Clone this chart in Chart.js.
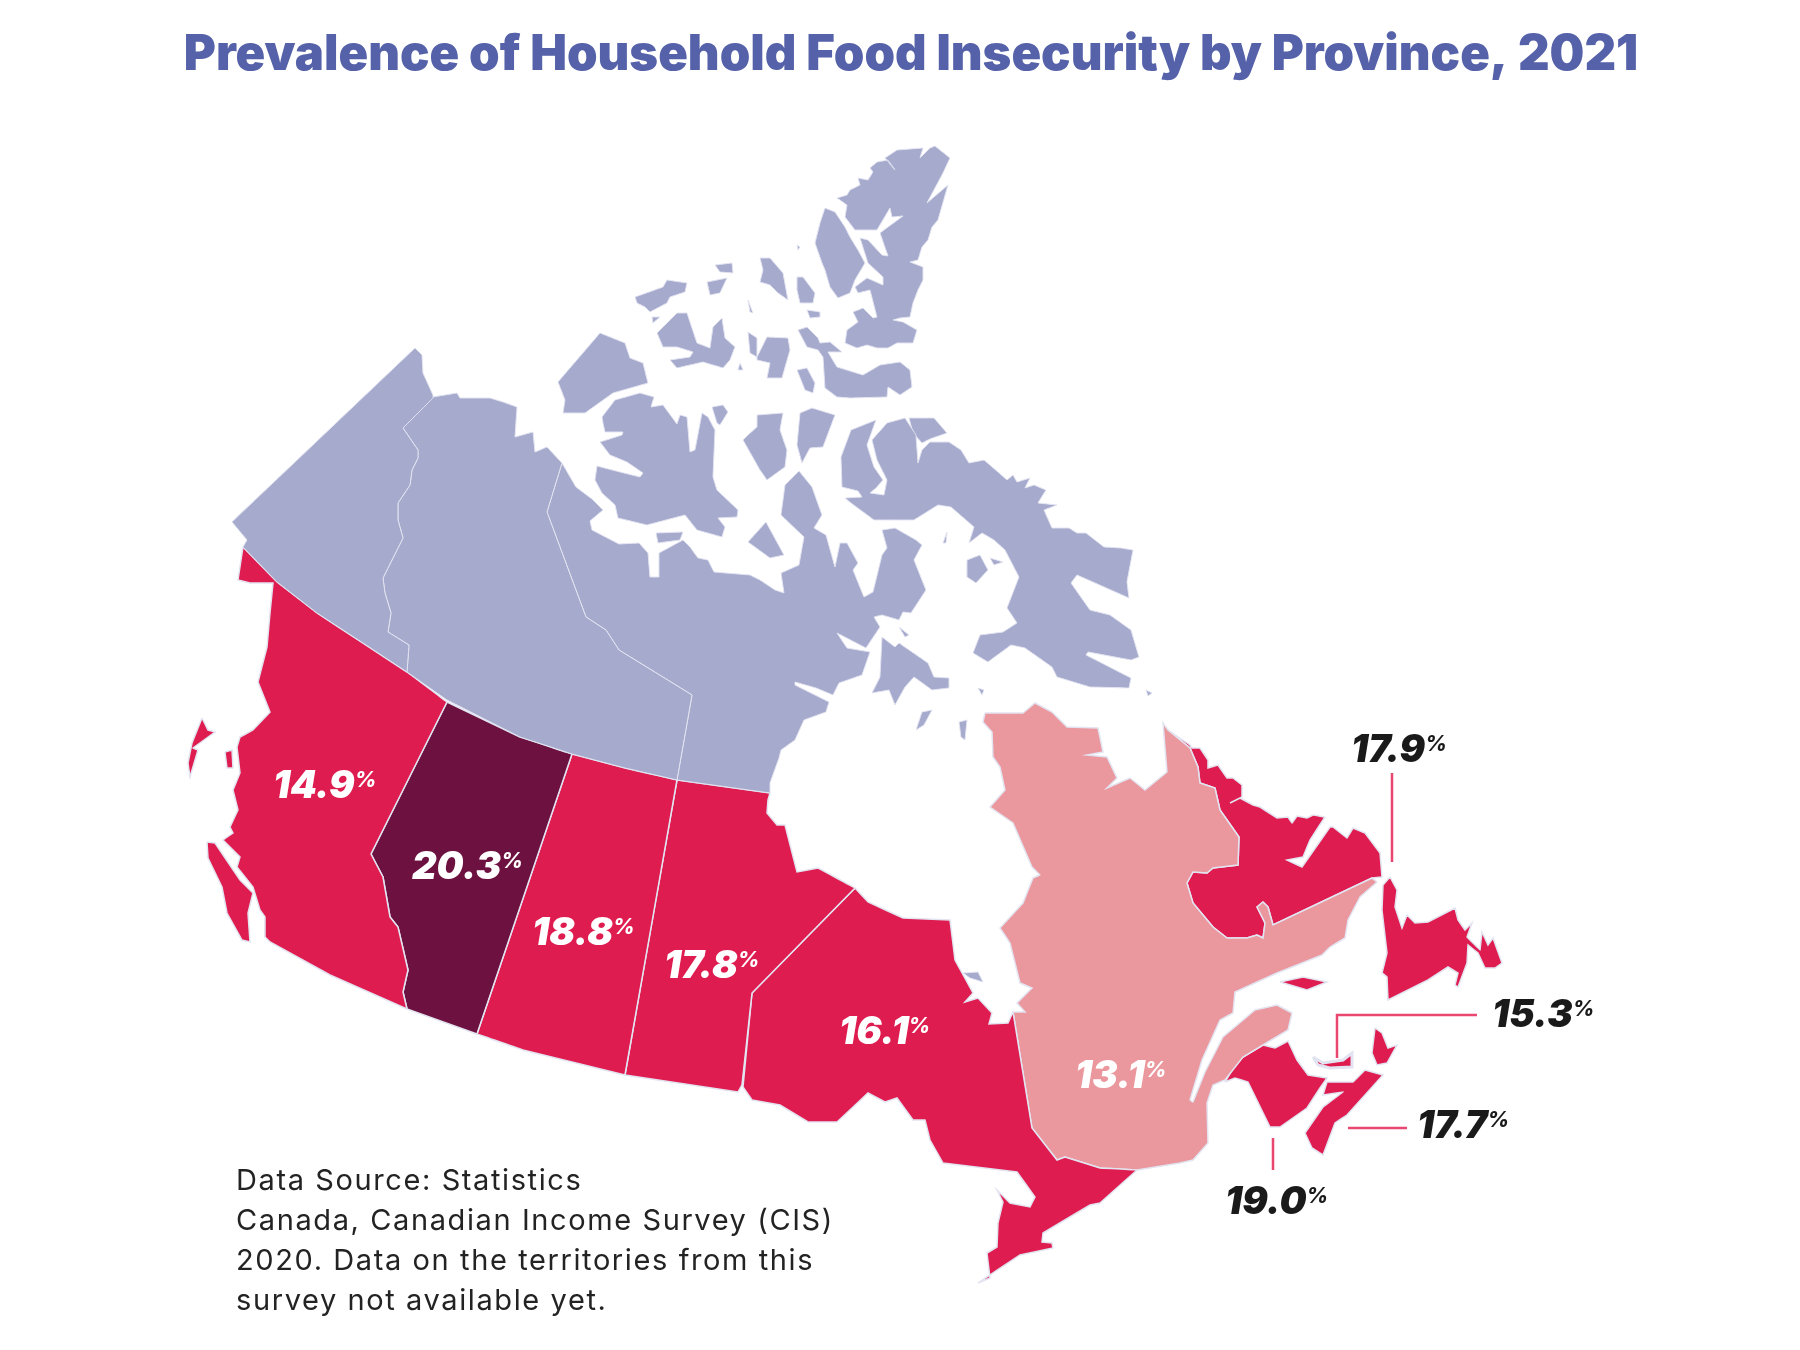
<!DOCTYPE html>
<html>
<head>
<meta charset="utf-8">
<title>Prevalence of Household Food Insecurity by Province, 2021</title>
<script src="https://cdn.jsdelivr.net/npm/chart.js@4"></script>
<style>
  html, body { margin: 0; padding: 0; background: #ffffff; }
  canvas { display: block; }
</style>
</head>
<body>
<canvas id="mapChart" width="1800" height="1350"></canvas>
<script>
const titleText = 'Prevalence of Household Food Insecurity by Province, 2021';
const sourceLines = [
    'Data Source: Statistics',
    'Canada, Canadian Income Survey (CIS)',
    '2020. Data on the territories from this',
    'survey not available yet.'
];
const provinces = ['BC', 'AB', 'SK', 'MB', 'ON', 'QC', 'NL', 'PE', 'NS', 'NB'];
const insecurity = [14.9, 20.3, 18.8, 17.8, 16.1, 13.1, 17.9, 15.3, 17.7, 19.0];
const labelX = [273, 412, 532, 664, 839, 1075, 1351, 1492, 1417, 1225];
const labelY = [798, 879, 945, 978, 1044, 1088, 762, 1027, 1138, 1214];
const labelColors = ['#fff', '#fff', '#fff', '#fff', '#fff', '#fff', '#1a1a1a', '#1a1a1a', '#1a1a1a', '#1a1a1a'];

// ====== contornos (unidades del mapa) ======
const yukon = [[415,348],[422,355],[423,373],[433,395],[433,398],[403,428],[418,450],[418,458],[412,470],[410,485],[398,503],[398,520],[403,538],[383,578],[385,593],[391,613],[388,632],[409,645],[407,672],[363,643],[317,613],[277,582],[243,547],[247,540],[232,522]];
const nwt = [[433,397],[457,393],[460,398],[490,398],[503,402],[517,407],[515,437],[533,432],[535,452],[547,447],[562,463],[547,512],[586,617],[606,630],[619,650],[692,695],[677,780],[625,768],[572,754],[520,737],[447,700],[407,672],[409,645],[388,632],[391,613],[385,593],[383,578],[403,538],[398,520],[398,503],[410,485],[412,470],[418,458],[418,450],[403,428]];
const nunavut = [[562,463],[576,487],[592,499],[603,510],[590,521],[592,530],[619,544],[639,543],[648,553],[650,577],[659,577],[659,553],[683,540],[690,547],[698,558],[708,560],[714,572],[750,575],[760,580],[775,590],[784,593],[781,573],[799,565],[802,548],[804,537],[781,515],[785,485],[799,471],[812,487],[822,515],[814,528],[826,535],[835,567],[840,543],[847,543],[858,563],[853,570],[864,597],[873,592],[882,555],[887,548],[882,530],[895,528],[916,540],[922,545],[914,560],[926,590],[911,613],[903,612],[899,620],[882,615],[874,617],[880,627],[866,648],[837,633],[847,648],[870,652],[862,675],[839,683],[833,695],[816,688],[795,682],[795,685],[829,702],[826,712],[804,720],[795,740],[781,750],[779,758],[770,783],[770,793],[677,780],[692,695],[619,650],[606,630],[586,617],[547,512]];
const victoria = [[602,417],[615,400],[640,393],[654,397],[651,407],[663,405],[677,424],[680,415],[687,417],[690,452],[695,450],[702,413],[708,417],[715,430],[713,477],[717,490],[738,510],[737,517],[718,518],[725,527],[722,537],[697,530],[685,515],[647,525],[618,518],[615,505],[602,493],[595,480],[597,466],[620,472],[640,477],[643,473],[627,462],[610,455],[600,442],[622,435],[623,432],[605,432],[603,423]];
const victoriaBorder = [[597,467],[658,487],[678,423]];
const baffin = [[851,503],[845,498],[862,497],[858,491],[842,487],[841,457],[851,430],[876,420],[867,445],[874,467],[883,480],[876,488],[870,493],[884,495],[887,480],[877,460],[872,440],[887,423],[905,418],[916,435],[918,463],[922,450],[930,442],[949,442],[961,450],[969,463],[984,460],[998,472],[1007,480],[1013,475],[1017,482],[1030,478],[1025,488],[1034,485],[1046,490],[1038,503],[1057,505],[1044,510],[1052,528],[1069,528],[1077,533],[1086,533],[1104,547],[1121,548],[1133,550],[1127,582],[1129,598],[1077,575],[1071,583],[1090,610],[1110,615],[1131,630],[1139,657],[1131,660],[1088,652],[1086,655],[1131,678],[1129,688],[1090,687],[1057,677],[1052,667],[1025,648],[1011,645],[988,662],[973,653],[980,635],[1003,632],[1017,623],[1007,608],[1019,577],[1005,550],[994,540],[982,533],[969,543],[974,527],[951,507],[938,505],[914,520],[874,520]];
const ellesmere = [[837,198],[847,195],[850,190],[860,185],[858,178],[868,180],[873,172],[870,168],[877,162],[888,160],[895,170],[885,158],[897,150],[923,148],[920,158],[930,148],[935,146],[950,158],[943,173],[927,203],[948,185],[938,220],[932,227],[928,240],[922,247],[918,260],[910,262],[923,267],[923,280],[918,290],[913,303],[910,317],[900,318],[893,320],[903,322],[917,330],[913,343],[897,343],[888,348],[877,348],[867,345],[857,348],[845,343],[847,330],[858,322],[853,312],[863,308],[873,318],[877,317],[870,290],[858,293],[855,287],[867,278],[883,285],[883,277],[868,263],[860,238],[868,240],[882,255],[888,256],[880,233],[903,216],[892,217],[890,208],[877,230],[855,230],[845,217],[847,205]];
const devon = [[798,330],[807,327],[818,338],[820,343],[830,342],[842,352],[828,352],[837,367],[863,375],[880,365],[900,362],[910,370],[912,387],[900,395],[888,387],[887,397],[850,398],[837,397],[825,388],[823,357],[818,350],[807,347]];
const southampton = [[882,637],[895,647],[899,643],[928,663],[934,677],[949,678],[949,688],[932,690],[914,677],[905,687],[895,705],[889,690],[872,693],[880,677]];
const arcticIslands = [
    [[558,382],[600,333],[625,343],[630,358],[643,363],[648,383],[613,393],[585,413],[563,413],[565,400]],
    [[635,297],[663,287],[667,280],[687,283],[685,292],[670,297],[667,303],[650,312],[645,307],[637,303]],
    [[657,333],[677,313],[687,313],[697,343],[710,348],[713,327],[722,318],[725,338],[735,347],[730,360],[723,368],[703,362],[677,368],[670,360],[690,357],[693,352],[677,347],[663,347]],
    [[707,282],[727,278],[720,293],[710,295]],
    [[715,265],[732,263],[733,273],[720,272]],
    [[760,258],[770,258],[783,273],[788,300],[778,293],[770,285],[760,282],[763,270]],
    [[797,277],[803,277],[815,293],[813,303],[800,303],[797,290]],
    [[807,310],[820,312],[820,317],[810,318]],
    [[748,300],[753,313],[750,312]],
    [[797,245],[800,247],[798,250]],
    [[652,317],[660,317],[653,323]],
    [[740,363],[743,370],[738,370]],
    [[757,357],[767,337],[788,338],[790,350],[782,378],[767,378],[770,363],[757,360]],
    [[748,332],[757,338],[757,357],[750,353]],
    [[825,208],[835,212],[845,227],[850,237],[858,250],[865,263],[855,280],[850,293],[838,298],[830,287],[825,270],[822,263],[815,243],[820,223]],
    [[797,370],[807,368],[815,383],[813,393],[805,390]],
    [[712,407],[723,405],[728,412],[720,425],[717,423]],
    [[757,415],[783,413],[780,430],[787,450],[785,467],[767,480],[760,470],[743,440],[748,435],[757,427]],
    [[800,413],[812,408],[835,415],[823,447],[810,448],[802,463],[797,445]],
    [[909,418],[934,418],[947,433],[930,439],[922,443],[913,433]],
    [[967,560],[980,555],[988,570],[976,583],[967,577]],
    [[990,558],[1003,562],[994,565]],
    [[916,730],[922,712],[932,710],[924,725]],
    [[959,722],[967,720],[965,740],[961,737]],
    [[978,688],[984,690],[982,695]],
    [[1146,690],[1152,693],[1148,696]],
    [[943,543],[947,532],[946,543]],
    [[899,627],[909,635],[905,637]],
    [[748,542],[766,522],[784,555],[770,558]],
    [[656,533],[683,532],[680,540],[658,543]],
    [[963,973],[978,972],[983,982],[970,978]]
];
const bc = [[243,547],[277,582],[317,613],[363,643],[407,672],[447,702],[371,854],[383,877],[390,917],[398,927],[408,970],[403,992],[407,1009],[330,975],[270,942],[265,937],[265,917],[260,910],[253,887],[237,867],[240,857],[223,840],[233,833],[230,827],[238,810],[233,790],[240,773],[237,747],[240,737],[253,730],[270,712],[258,682],[267,647],[270,613],[273,583],[250,583],[238,580]];
const vancouverIsland = [[207,842],[215,843],[240,880],[253,893],[248,913],[250,942],[242,940],[227,913],[222,887],[208,858]];
const haidaGwaii = [[202,718],[208,730],[215,732],[193,748],[198,750],[190,777],[188,763],[192,743]];
const bcSmallIsland = [[225,752],[232,750],[233,768],[227,768]];
const alberta = [[447,702],[520,737],[572,754],[477,1034],[407,1009],[403,992],[408,970],[398,927],[390,917],[383,877],[371,854]];
const saskatchewan = [[572,754],[625,768],[677,780],[625,1075],[523,1050],[477,1034]];
const manitoba = [[677,780],[770,793],[768,800],[767,813],[777,825],[785,825],[797,872],[818,868],[855,888],[752,993],[742,1085],[738,1092],[625,1075]];
const ontario = [[855,888],[868,902],[903,918],[950,920],[955,960],[973,993],[965,1002],[978,998],[992,1013],[989,1024],[1008,1023],[1013,1012],[1032,1128],[1057,1160],[1065,1157],[1100,1168],[1137,1170],[1100,1203],[1090,1205],[1043,1233],[1042,1242],[1052,1243],[1053,1248],[1020,1255],[978,1283],[990,1278],[987,1253],[997,1247],[998,1223],[1003,1202],[997,1190],[1010,1203],[1030,1207],[1035,1197],[1017,1172],[943,1163],[930,1140],[925,1120],[913,1120],[897,1098],[885,1102],[868,1093],[852,1108],[837,1122],[808,1122],[780,1105],[752,1100],[743,1087],[752,993]];
const quebec = [[985,713],[1023,713],[1035,703],[1052,712],[1067,727],[1098,728],[1103,752],[1087,755],[1107,757],[1117,778],[1107,788],[1130,778],[1145,790],[1167,772],[1163,723],[1168,730],[1190,748],[1198,767],[1200,783],[1215,788],[1220,810],[1239,837],[1238,865],[1213,868],[1207,873],[1193,872],[1187,883],[1193,903],[1213,927],[1227,938],[1247,938],[1257,935],[1263,938],[1265,923],[1257,907],[1263,902],[1268,907],[1273,925],[1372,878],[1377,882],[1360,897],[1348,920],[1345,938],[1330,947],[1322,955],[1277,973],[1235,992],[1233,1013],[1220,1020],[1202,1060],[1190,1100],[1193,1102],[1205,1072],[1223,1037],[1255,1010],[1277,1005],[1292,1013],[1288,1030],[1243,1057],[1225,1080],[1213,1085],[1207,1103],[1208,1143],[1193,1160],[1180,1163],[1137,1170],[1100,1168],[1065,1157],[1057,1160],[1032,1128],[1013,1012],[1025,1012],[1017,1003],[1032,988],[1020,983],[1010,943],[1000,928],[1023,903],[1033,878],[1040,875],[1032,867],[1013,823],[990,807],[1005,790],[1000,767],[993,757],[992,732],[983,722]];
const labrador = [[1168,730],[1190,745],[1192,748],[1200,748],[1208,760],[1208,768],[1218,765],[1227,778],[1233,778],[1242,785],[1242,797],[1230,803],[1240,798],[1253,805],[1260,807],[1277,818],[1288,817],[1292,823],[1297,816],[1307,818],[1313,815],[1325,817],[1310,840],[1303,857],[1287,860],[1302,867],[1330,827],[1333,827],[1347,838],[1353,828],[1365,833],[1380,853],[1382,877],[1372,878],[1273,925],[1268,907],[1263,902],[1257,907],[1265,923],[1263,938],[1257,935],[1247,938],[1227,938],[1213,927],[1193,903],[1187,883],[1193,872],[1207,873],[1213,868],[1238,865],[1239,837],[1220,810],[1215,788],[1200,783],[1198,767],[1190,748]];
const newfoundland = [[1390,877],[1397,890],[1395,907],[1402,928],[1407,915],[1415,923],[1428,922],[1455,908],[1458,920],[1465,930],[1472,923],[1467,937],[1480,950],[1482,932],[1488,945],[1493,938],[1502,963],[1495,968],[1485,968],[1478,953],[1468,945],[1467,963],[1458,987],[1455,985],[1458,973],[1448,967],[1428,980],[1388,1000],[1387,977],[1382,973],[1387,953],[1382,910],[1383,885]];
const anticosti = [[1280,982],[1303,977],[1327,982],[1307,990]];
const newBrunswick = [[1225,1082],[1238,1060],[1263,1045],[1275,1048],[1288,1041],[1297,1060],[1308,1075],[1327,1078],[1320,1088],[1307,1108],[1280,1127],[1270,1127],[1248,1082],[1235,1078]];
const novaScotia = [[1327,1082],[1353,1082],[1365,1070],[1383,1075],[1347,1115],[1335,1123],[1323,1155],[1312,1148],[1305,1133],[1323,1107],[1343,1092],[1323,1095]];
const capeBreton = [[1375,1028],[1382,1033],[1388,1048],[1397,1045],[1387,1063],[1377,1065],[1372,1053]];
const pei = [[1313,1057],[1323,1063],[1343,1060],[1352,1053],[1352,1067],[1330,1068],[1318,1065]];

// lineas guia hacia las etiquetas exteriores
const leaderLines = [
    [[1392,773],[1392,862]],
    [[1477,1015],[1337,1015],[1337,1058]],
    [[1348,1128],[1407,1128]],
    [[1273,1138],[1273,1170]]
];

const TERRITORY = '#a6aacd';
const BORDER = '#e3e4f1';

// color segun el valor
function colorFor(value) {
    if (value >= 20) return '#6d1240';
    if (value < 14) return '#ea979d';
    return '#df1c50';
}

function toPoints(outline) {
    return outline.map(p => ({ x: p[0], y: p[1] }));
}

function shape(outline, color, borderWidth) {
    const pts = toPoints(outline);
    pts.push(pts[0]);
    return {
        data: pts,
        showLine: true,
        fill: 'shape',
        backgroundColor: color,
        borderColor: BORDER,
        borderWidth: borderWidth || 1.5,
        pointRadius: 0,
        tension: 0.001
    };
}

function line(points, color, width) {
    return {
        data: toPoints(points),
        showLine: true,
        fill: false,
        borderColor: color,
        borderWidth: width,
        pointRadius: 0,
        tension: 0.001
    };
}

const valueOf = code => insecurity[provinces.indexOf(code)];

const datasets = [];
[yukon, nwt, nunavut, victoria, baffin, ellesmere, devon, southampton].concat(arcticIslands).forEach(o => {
    datasets.push(shape(o, TERRITORY, 1));
});
datasets.push(line(victoriaBorder, BORDER, 1.5));
[bc, vancouverIsland, haidaGwaii, bcSmallIsland].forEach(o => datasets.push(shape(o, colorFor(valueOf('BC')))));
datasets.push(shape(alberta, colorFor(valueOf('AB'))));
datasets.push(shape(saskatchewan, colorFor(valueOf('SK'))));
datasets.push(shape(manitoba, colorFor(valueOf('MB'))));
datasets.push(shape(ontario, colorFor(valueOf('ON'))));
datasets.push(shape(quebec, colorFor(valueOf('QC'))));
[labrador, newfoundland, anticosti].forEach(o => datasets.push(shape(o, colorFor(valueOf('NL')))));
datasets.push(shape(newBrunswick, colorFor(valueOf('NB'))));
[novaScotia, capeBreton].forEach(o => datasets.push(shape(o, colorFor(valueOf('NS')))));
datasets.push(shape(pei, colorFor(valueOf('PE')), 3));
leaderLines.forEach(l => datasets.push(line(l, '#e9476f', 2.5)));

// textos: titulo, fuente y porcentajes
const textPlugin = {
    id: 'mapText',
    afterDraw(chart) {
        const ctx = chart.ctx;
        const sx = chart.scales.x;
        const sy = chart.scales.y;
        ctx.save();
        ctx.textBaseline = 'alphabetic';

        ctx.textAlign = 'center';
        ctx.fillStyle = '#5561a9';
        ctx.font = '900 49px Inter';
        ctx.fillText(titleText, sx.getPixelForValue(911), sy.getPixelForValue(70));

        ctx.textAlign = 'left';
        ctx.fillStyle = '#232323';
        ctx.font = '29px Inter';
        ctx.letterSpacing = '1.6px';
        sourceLines.forEach((txt, i) => {
            ctx.fillText(txt, sx.getPixelForValue(236), sy.getPixelForValue(1190 + i * 40));
        });
        ctx.letterSpacing = '0px';

        insecurity.forEach((v, i) => {
            const x = sx.getPixelForValue(labelX[i]);
            const y = sy.getPixelForValue(labelY[i]);
            const num = v.toFixed(1);
            ctx.fillStyle = labelColors[i];
            ctx.font = 'italic 900 38px Inter';
            ctx.fillText(num, x, y);
            const w = ctx.measureText(num).width;
            ctx.font = 'italic 800 21px Inter';
            ctx.fillText('%', x + w, y - 11);
        });
        ctx.restore();
    }
};

new Chart(document.getElementById('mapChart'), {
    type: 'scatter',
    data: { datasets: datasets },
    options: {
        responsive: false,
        animation: false,
        devicePixelRatio: 1,
        layout: { padding: 0 },
        scales: {
            x: { type: 'linear', display: false, min: 0, max: 1800 },
            y: { type: 'linear', display: false, min: 0, max: 1350, reverse: true }
        },
        plugins: {
            legend: { display: false },
            tooltip: { enabled: false }
        }
    },
    plugins: [textPlugin]
});
</script>
</body>
</html>
